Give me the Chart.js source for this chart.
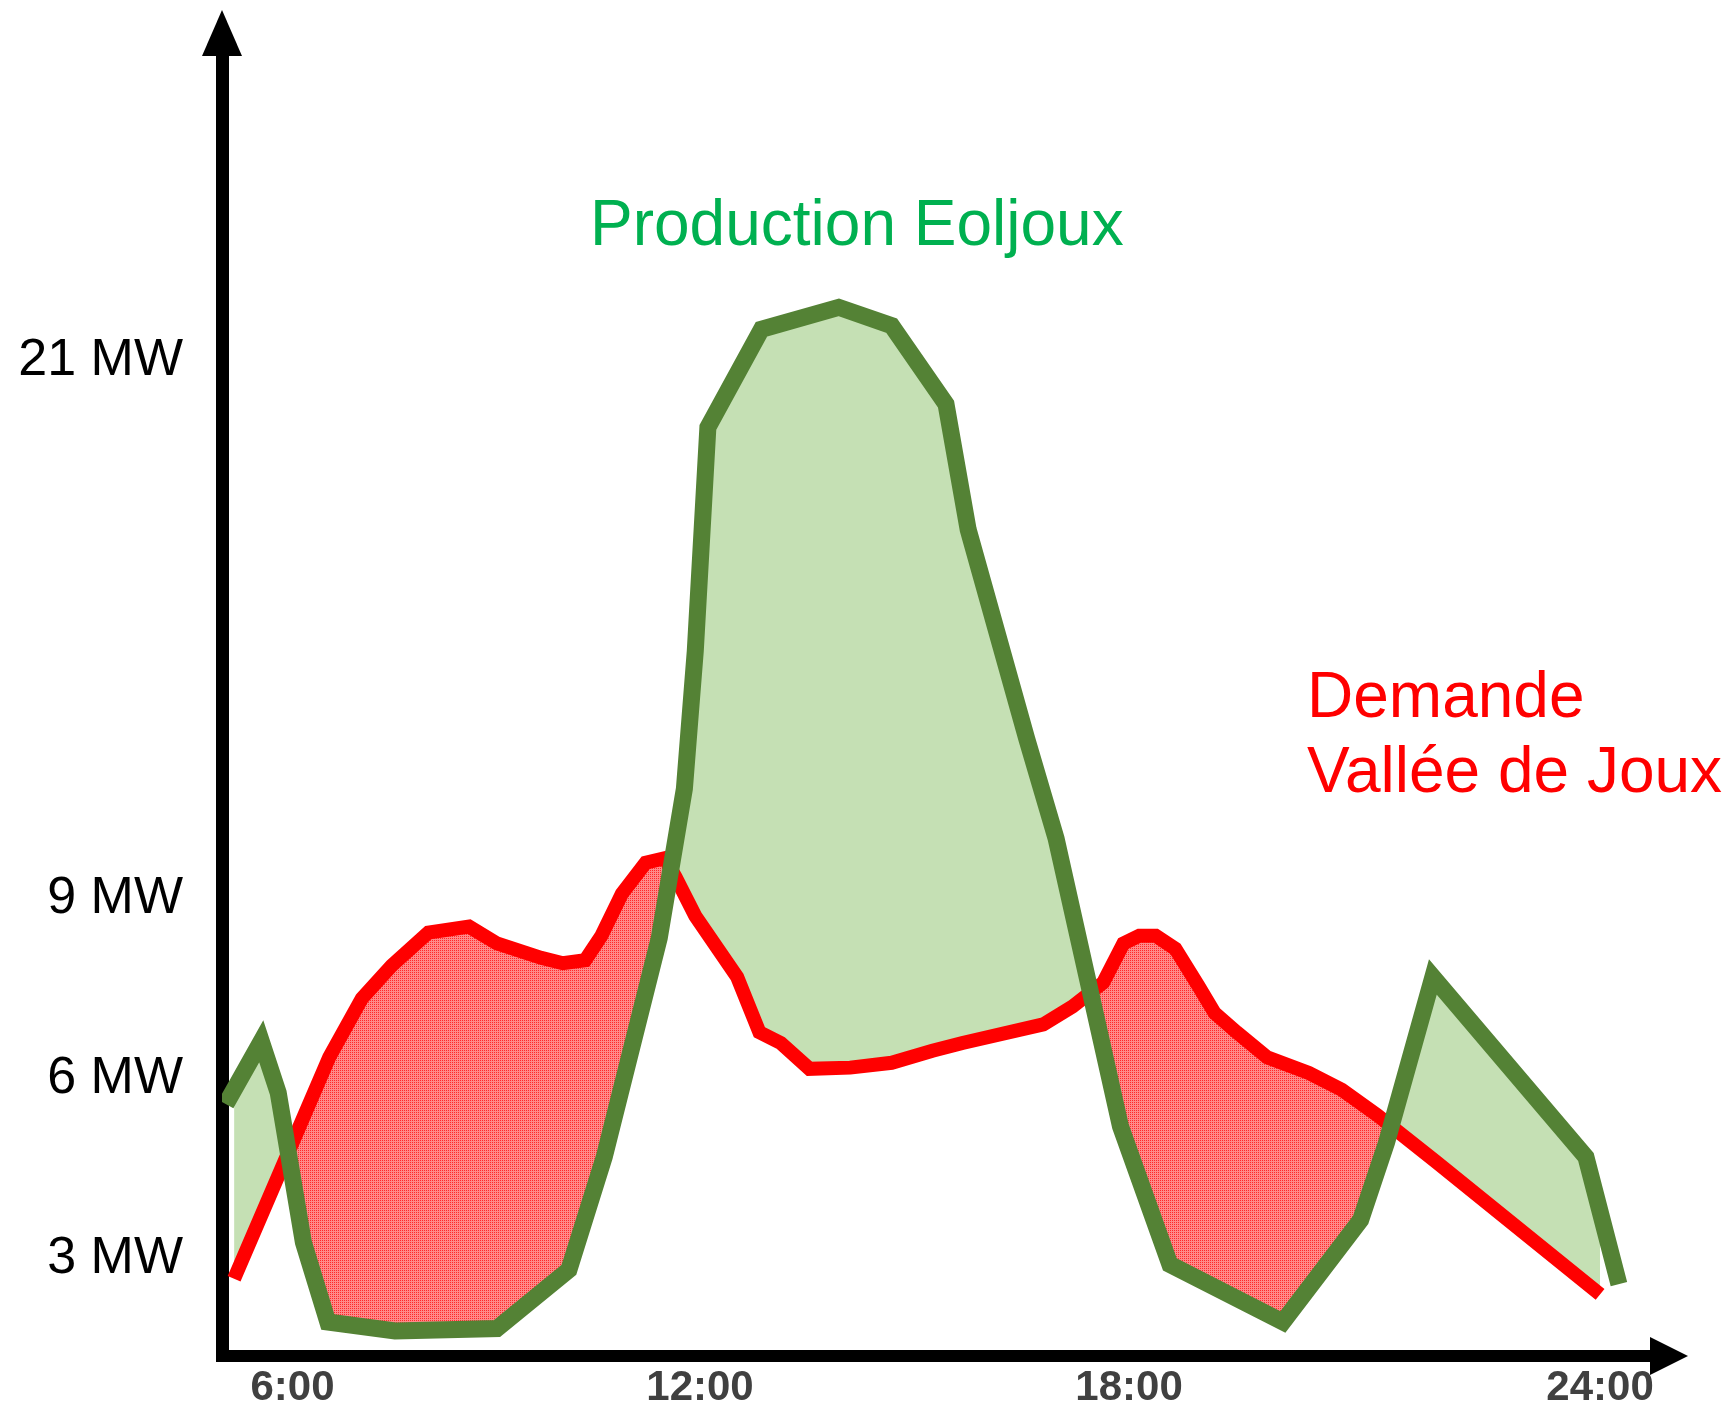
<!DOCTYPE html>
<html>
<head>
<meta charset="utf-8">
<script src="https://cdn.jsdelivr.net/npm/chart.js@4.4.1/dist/chart.umd.min.js"></script>
<style>
  html, body { margin: 0; padding: 0; background: #fff; }
  .wrap { width: 1731px; height: 1415px; position: relative; }
</style>
</head>
<body>
<div class="wrap"><canvas class="myChart"></canvas></div>
<script>
// Production Eoljoux (hour, MW)
const prodHours = [5.02, 5.54, 5.79, 6.16, 6.52, 7.51, 9.01, 10.07, 10.59, 11.40, 11.77, 11.93, 12.11, 12.86,
  13.94, 14.68, 15.44, 15.75, 16.57, 16.98, 17.88, 18.52, 19.96, 20.95, 21.28, 21.87, 23.82, 24.24];
const prodMW = [5.58, 6.63, 5.77, 3.28, 1.95, 1.80, 1.84, 2.82, 4.70, 8.35, 11.46, 14.53, 19.52, 21.71,
  22.20, 21.79, 20.04, 17.24, 12.57, 10.35, 5.21, 2.91, 1.95, 3.65, 4.94, 7.70, 4.70, 2.58];

// Demande Vallée de Joux (hour, MW)
const demHours = [5.14, 6.54, 7.02, 7.46, 8.00, 8.60, 9.01, 9.66, 9.98, 10.31, 10.55, 10.85, 11.20, 11.48,
  11.64, 11.93, 12.52, 12.83, 13.13, 13.53, 14.10, 14.68, 15.25, 15.67, 16.80, 17.21, 17.64, 17.92,
  18.13, 18.34, 18.59, 18.88, 19.09, 19.37, 19.76, 20.29, 20.71, 21.16, 21.91, 24.00];
const demMW = [2.67, 6.36, 7.34, 7.89, 8.44, 8.54, 8.26, 8.02, 7.93, 7.98, 8.39, 9.12, 9.81, 9.91,
  9.49, 8.72, 7.70, 6.78, 6.60, 6.17, 6.19, 6.27, 6.47, 6.60, 6.91, 7.21, 7.61, 8.26,
  8.39, 8.39, 8.17, 7.56, 7.10, 6.78, 6.36, 6.10, 5.82, 5.40, 4.62, 2.41];

const hourTicks = [6, 12, 18, 24];
const hourLabels = ['6:00', '12:00', '18:00', '24:00'];
const mwTicks = [3, 6, 9, 21];
const mwLabels = ['3 MW', '6 MW', '9 MW', '21 MW'];

// the drawing is not to scale: piecewise stretch of both axes
const xKnots = [[6, 6], [12, 12], [18, 18.317], [24, 25.252]];
const yKnots = [[0, 0], [9, 9], [21, 17.967]];

function pw(knots, v) {
  let i = 0;
  while (i < knots.length - 2 && v > knots[i + 1][0]) i++;
  const [x0, y0] = knots[i];
  const [x1, y1] = knots[i + 1];
  return y0 + (v - x0) * (y1 - y0) / (x1 - x0);
}

class WarpScale extends Chart.LinearScale {
  knots() { return this.axis === 'x' ? xKnots : yKnots; }
  getPixelForValue(value) {
    const k = this.knots();
    const a = pw(k, this.min), b = pw(k, this.max);
    return this.getPixelForDecimal((pw(k, value) - a) / (b - a));
  }
  getValueForPixel(pixel) {
    const k = this.knots();
    const inv = k.map(p => [p[1], p[0]]);
    const a = pw(k, this.min), b = pw(k, this.max);
    return pw(inv, a + this.getDecimalForPixel(pixel) * (b - a));
  }
}
WarpScale.id = 'warp';
WarpScale.defaults = Chart.LinearScale.defaults;
Chart.register(WarpScale);

function toPoints(xs, ys) {
  return xs.map((x, i) => ({ x: x, y: ys[i] }));
}

// dotted red texture of the "demand > production" areas
function dotPattern() {
  const c = document.createElement('canvas');
  c.width = 2; c.height = 2;
  const g = c.getContext('2d');
  g.fillStyle = '#ff8a8a';
  g.fillRect(0, 0, 2, 2);
  g.fillStyle = '#ff2a2a';
  g.fillRect(0, 0, 1, 1);
  return g.createPattern(c, 'repeat');
}

const axisArrows = {
  id: 'axisArrows',
  beforeDatasetsDraw(chart) {
    const { ctx, chartArea: a } = chart;
    const x0 = a.left, y0 = a.bottom;
    ctx.save();
    ctx.fillStyle = '#000';
    ctx.fillRect(x0 - 6, 52, 13, y0 + 6 - 52);
    ctx.beginPath();
    ctx.moveTo(x0, 10);
    ctx.lineTo(x0 - 20, 56);
    ctx.lineTo(x0 + 20, 56);
    ctx.closePath();
    ctx.fill();
    ctx.fillRect(x0 - 5, y0 - 6, 1655 - x0, 12);
    ctx.beginPath();
    ctx.moveTo(1688, y0);
    ctx.lineTo(1650, y0 - 19);
    ctx.lineTo(1650, y0 + 19);
    ctx.closePath();
    ctx.fill();
    ctx.restore();
  }
};

const seriesNames = {
  id: 'seriesNames',
  afterDraw(chart) {
    const ctx = chart.ctx;
    ctx.save();
    ctx.textBaseline = 'alphabetic';
    ctx.textAlign = 'left';
    ctx.font = '64px "Liberation Sans", Arial, sans-serif';
    ctx.fillStyle = '#00b050';
    ctx.fillText('Production Eoljoux', 590, 245);
    ctx.fillStyle = '#ff0000';
    ctx.fillText('Demande', 1307, 717);
    ctx.fillText('Vallée de Joux', 1307, 792);
    ctx.restore();
  }
};

new Chart(document.querySelector('.myChart'), {
  type: 'line',
  data: {
    datasets: [
      {
        label: 'Production Eoljoux',
        data: toPoints(prodHours, prodMW),
        borderColor: '#548235',
        borderWidth: 17,
        borderJoinStyle: 'miter',
        borderCapStyle: 'butt',
        pointRadius: 0,
        tension: 0,
        fill: { target: 1, above: '#c5e0b4', below: dotPattern() }
      },
      {
        label: 'Demande Vallée de Joux',
        data: toPoints(demHours, demMW),
        borderColor: '#ff0000',
        borderWidth: 14,
        borderJoinStyle: 'miter',
        borderCapStyle: 'butt',
        pointRadius: 0,
        tension: 0,
        fill: false
      }
    ]
  },
  options: {
    responsive: true,
    maintainAspectRatio: false,
    animation: false,
    layout: { padding: { left: 0, right: 43, top: 11, bottom: 0 } },
    plugins: {
      legend: { display: false },
      tooltip: { enabled: false },
      filler: { drawTime: 'beforeDatasetsDraw' }
    },
    scales: {
      x: {
        type: 'warp',
        min: 4.962,
        max: 25.12,
        grid: { display: false, drawTicks: false },
        border: { display: false },
        afterFit(scale) {
          scale.height = 59;
          scale.paddingLeft = 0;
          scale.paddingRight = 0;
        },
        afterBuildTicks(scale) { scale.ticks = hourTicks.map(v => ({ value: v })); },
        ticks: {
          padding: 7,
          autoSkip: false,
          maxRotation: 0,
          color: '#404040',
          font: { family: '"Liberation Sans", Arial, sans-serif', size: 42, weight: 'bold' },
          callback: (v) => hourLabels[hourTicks.indexOf(v)]
        }
      },
      y: {
        type: 'warp',
        min: 1.383,
        max: 28.81,
        grid: { display: false, drawTicks: false },
        border: { display: false },
        afterFit(scale) {
          scale.width = 222;
          scale.paddingTop = 0;
          scale.paddingBottom = 0;
        },
        afterBuildTicks(scale) { scale.ticks = mwTicks.map(v => ({ value: v })); },
        ticks: {
          padding: 39,
          autoSkip: false,
          color: '#000',
          font: { family: '"Liberation Sans", Arial, sans-serif', size: 52 },
          callback: (v) => mwLabels[mwTicks.indexOf(v)]
        }
      }
    }
  },
  plugins: [axisArrows, seriesNames]
});
</script>
</body>
</html>
